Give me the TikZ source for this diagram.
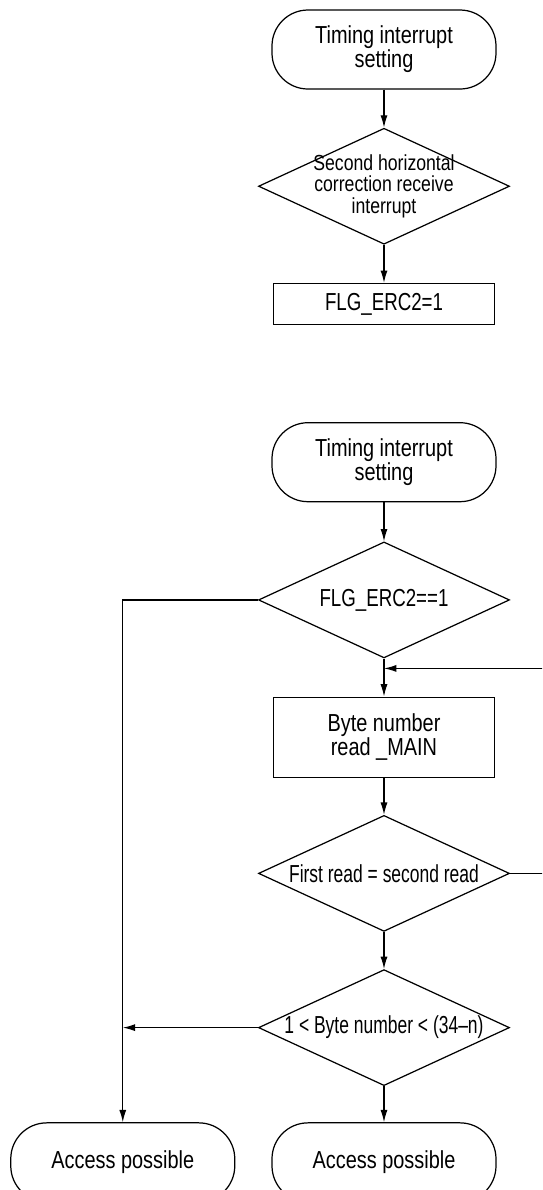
\documentclass[tikz,border=0pt]{standalone}
\usepackage{fontspec}
\setmainfont{Liberation Sans}[FakeStretch=0.81]
\newfontfamily\flagfont{Liberation Sans}[FakeStretch=0.76]
\newfontfamily\narrowfont{Liberation Sans}[FakeStretch=0.71]
\usetikzlibrary{shapes.geometric,arrows.meta,positioning,calc}

\begin{document}
\begin{tikzpicture}[
    node distance=0.76cm,
    line width=0.7pt,
    term/.style={rectangle, rounded corners=0.72cm, draw, minimum width=4.48cm, minimum height=1.58cm, align=center, font=\fontsize{14}{13.6}\selectfont},
    dec/.style={diamond, aspect=2.18, draw, minimum width=5.02cm, minimum height=2.32cm, inner sep=-4pt, align=center, font=\fontsize{14}{13.6}\selectfont},
    box/.style={rectangle, draw, minimum width=4.42cm, align=center, font=\fontsize{14}{13.6}\selectfont},
    arrow/.style={-{Latex[length=7pt,width=4pt]}}
]
\useasboundingbox (0,0) rectangle (10.84,-23.8);
\clip (0,0) rectangle (10.84,-23.8);

% Upper flow
\node[term] (t1) at (7.68,-0.99) {Timing interrupt\\setting};
\node[dec, below=of t1, font=\fontsize{12.4}{12.2}\selectfont] (d1) {Second horizontal\\correction receive\\interrupt};
\node[box, below=of d1, minimum height=0.82cm, font=\flagfont\fontsize{14}{13.6}\selectfont] (b1) {FLG\_ERC2=1};

% Lower flow
\node[term, below=1.94cm of b1] (t2) {Timing interrupt\\setting};
\node[dec, below=0.78cm of t2, font=\flagfont\fontsize{14}{13.6}\selectfont] (d2) {FLG\_ERC2==1};
\node[box, below=of d2, minimum height=1.6cm, font=\fontsize{14}{12}\selectfont] (b2) {Byte number\\read \_MAIN};
\node[dec, below=0.74cm of b2, font=\narrowfont\fontsize{14}{13.6}\selectfont] (d3) {First read = second read};
\node[dec, below=0.74cm of d3, font=\narrowfont\fontsize{14}{13.6}\selectfont] (d4) {1 < Byte number < (34\textendash n)};
\node[term, below=0.72cm of d4] (t3) {Access possible};
\node[term, left=0.72cm of t3] (t4) {Access possible};

% Arrows
\draw[arrow] (t1) -- (d1);
\draw[arrow] (d1) -- (b1);
\draw[arrow] (t2) -- (d2);
\draw[arrow] (d2) -- (b2);
\draw[arrow] (b2) -- (d3);
\draw[arrow] (d3) -- (d4);
\draw[arrow] (d4) -- (t3);

% Side branches
\draw[arrow] (d2.west) -| (t4.north);
\draw[arrow] (d4.west) -- (d4.west -| t4.north);
\coordinate (loop) at ($(d3.east)+(1.2,0)$);
\draw[arrow] (d3.east) -- (loop) |- ($(d2.south)!0.26!(b2.north)$);

\end{tikzpicture}
\end{document}
